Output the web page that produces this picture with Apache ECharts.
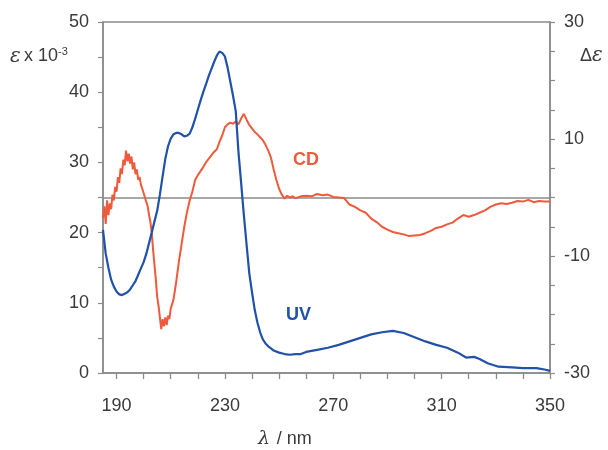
<!DOCTYPE html>
<html>
<head>
<meta charset="utf-8">
<script src="https://cdn.jsdelivr.net/npm/echarts@6/dist/echarts.min.js"></script>
<style>
  html, body { margin: 0; padding: 0; background: #fff; }
  #chart { width: 608px; height: 450px; }
</style>
</head>
<body>
<div id="chart"></div>
<script>
// UV absorption (left axis, ε x 10^-3)
const uvWavelength = [185, 186, 187, 188, 189, 190, 191, 192, 193, 194, 195, 196, 197, 198, 199, 200,
  201, 202, 203, 204, 205, 206, 207, 208, 209, 210, 211, 212, 213, 214, 215, 216, 217, 218, 219, 220,
  221, 222, 223, 224, 225, 226, 227, 228, 229, 230, 231, 232, 233, 234, 235, 236, 237, 238, 239, 240,
  241, 242, 243, 244, 245, 246, 247, 248, 250, 252, 254, 256, 258, 260, 264, 268, 272, 276, 280, 284,
  288, 292, 296, 300, 304, 308, 312, 316, 319, 322, 324, 327, 331, 336, 340, 345, 348, 350];
const uvValues = [20.4, 17.0, 15.0, 13.3, 12.3, 11.6, 11.2, 11.1, 11.3, 11.5, 11.9, 12.5, 13.1, 14.0, 14.9, 15.8,
  17.0, 18.5, 20.0, 21.6, 23.1, 25.4, 28.0, 30.5, 32.3, 33.4, 34.0, 34.2, 34.2, 34.0, 33.7, 33.8, 34.1, 35.0, 36.2, 37.5,
  38.8, 40.0, 41.1, 42.3, 43.3, 44.3, 45.2, 45.8, 45.6, 45.1, 43.5, 41.5, 39.5, 37.3, 31.5, 27.0, 22.5, 18.3, 14.2, 11.5,
  9.0, 7.2, 5.8, 4.8, 4.2, 3.8, 3.5, 3.2, 2.9, 2.7, 2.6, 2.7, 2.7, 3.0, 3.3, 3.6, 4.0, 4.5, 5.0, 5.5,
  5.8, 6.0, 5.7, 5.1, 4.5, 4.0, 3.6, 2.9, 2.2, 2.3, 2.0, 1.4, 0.9, 0.8, 0.7, 0.7, 0.5, 0.3];

// CD spectrum (right axis, Δε)
const cdWavelength = [185, 185.5, 186, 186.5, 187, 187.5, 188, 188.5, 189, 189.5, 190, 190.5, 191, 191.5, 192, 192.5,
  193, 193.5, 194, 194.5, 195, 195.5, 196, 196.5, 197, 197.5, 198, 198.5, 199, 199.5, 200, 200.5, 201, 201.5,
  202, 202.5, 203, 203.5, 204, 204.5, 205, 205.5, 206, 206.5, 207, 207.5, 208, 208.5, 209, 209.5, 210, 211,
  212, 213, 214, 215, 216, 217, 218, 219, 220, 221, 222, 223, 224, 225, 226, 227, 228, 229, 230, 231, 232,
  233, 234, 235, 236, 237, 238, 239, 240, 241, 242, 243, 244, 245, 246, 247, 248, 249, 250, 251, 252, 253,
  254, 255, 256, 258, 260, 262, 264, 266, 268, 270, 272, 274, 276, 278, 280, 282, 284, 286, 288, 290, 292,
  294, 296, 298, 300, 302, 304, 306, 308, 310, 312, 314, 316, 318, 320, 322, 324, 326, 328, 330, 332, 334,
  336, 338, 340, 342, 344, 346, 348, 350];
const cdValues = [-3.5, -1.5, -4.5, -0.5, -3.0, -1.0, -2.0, 0.5, -0.5, 1.8, 1.0, 3.5, 2.5, 5.0, 4.0, 6.5,
  5.5, 8.0, 6.2, 7.5, 5.8, 7.0, 4.8, 6.0, 4.0, 4.8, 3.0, 3.5, 2.2, 1.5, 1.2, 0.0, -0.8, -1.5,
  -3.0, -4.2, -6.0, -9.0, -11.5, -14.0, -17.0, -18.5, -20.5, -22.5, -20.8, -22.0, -20.5, -21.8, -20.2, -20.8, -19.0, -17.5,
  -14.5, -11.0, -8.0, -5.0, -2.5, -0.5, 1.0, 3.0, 3.8, 4.5, 5.2, 6.0, 6.6, 7.2, 7.8, 8.2, 9.5, 10.6, 12.0, 12.5, 12.8,
  12.6, 13.0, 12.5, 13.5, 14.3, 13.3, 12.4, 11.8, 11.2, 10.8, 10.3, 9.8, 9.0, 8.0, 6.8, 4.8, 3.0, 1.5, 0.5, -0.2, 0.3,
  0.0, 0.2, -0.1, 0.2, 0.3, 0.2, 0.6, 0.4, 0.5, 0.1, 0.0, -0.1, -1.2, -1.6, -2.2, -2.6, -3.6, -4.2, -5.0, -5.5, -5.9,
  -6.1, -6.3, -6.6, -6.5, -6.4, -6.1, -5.7, -5.2, -5.0, -4.6, -4.3, -3.6, -3.0, -3.3, -3.0, -2.6, -2.2, -1.6, -1.2, -1.0, -1.1,
  -0.9, -0.6, -0.7, -0.4, -0.8, -0.6, -0.7, -0.7];

const xTicks = [190, 200, 210, 220, 230, 240, 250, 260, 270, 280, 290, 300, 310, 320, 330, 340, 350];
const xLabels = [190, 230, 270, 310, 350];

const zip = (xs, ys) => xs.map((x, i) => [x, ys[i]]);

const axisGray = "#8a8a8a";
const labelFont = { color: "#3a3a3a", fontSize: 18, fontFamily: "Liberation Sans, Arial, sans-serif" };

const chart = echarts.init(document.getElementById("chart"), null, { renderer: "canvas" });
chart.setOption({
  animation: false,
  grid: {
    left: 103,
    right: 58,
    top: 22,
    bottom: 77,
    show: true,
    borderColor: axisGray,
    borderWidth: 1.5,
  },
  xAxis: {
    type: "value",
    min: 185,
    max: 350,
    axisLine: { show: true, lineStyle: { color: axisGray, width: 1.5 } },
    axisTick: { show: true, length: 6, customValues: xTicks, lineStyle: { color: axisGray, width: 1.3 } },
    axisLabel: { ...labelFont, margin: 24, customValues: xLabels },
    splitLine: { show: false },
  },
  yAxis: [
    {
      type: "value",
      min: 0,
      max: 50,
      interval: 5,
      axisLine: { show: true, lineStyle: { color: axisGray, width: 1.5 } },
      axisTick: { show: true, length: 5, lineStyle: { color: axisGray, width: 1.2 } },
      axisLabel: { ...labelFont, margin: 14, formatter: (v) => (v % 10 === 0 ? v : "") },
      splitLine: { show: false },
    },
    {
      type: "value",
      min: -30,
      max: 30,
      interval: 5,
      position: "right",
      axisLine: { show: true, lineStyle: { color: axisGray, width: 1.5 } },
      axisTick: { show: true, length: 5, lineStyle: { color: axisGray, width: 1.2 } },
      axisLabel: { ...labelFont, margin: 14, formatter: (v) => ((v + 30) % 20 === 0 ? v : "") },
      splitLine: { show: false },
    },
  ],
  series: [
    {
      name: "UV",
      type: "line",
      yAxisIndex: 0,
      data: zip(uvWavelength, uvValues),
      showSymbol: false,
      lineStyle: { color: "#1f52a8", width: 2.2 },
      z: 3,
    },
    {
      name: "CD",
      type: "line",
      yAxisIndex: 1,
      data: zip(cdWavelength, cdValues),
      showSymbol: false,
      lineStyle: { color: "#ef5a3c", width: 2 },
      z: 2,
      markLine: {
        silent: true,
        symbol: "none",
        label: { show: false },
        lineStyle: { color: axisGray, width: 1.5, type: "solid" },
        data: [{ yAxis: 0 }],
        z: 1,
      },
    },
  ],
  graphic: [
    {
      type: "text",
      left: 10,
      top: 46,
      style: {
        text: "{e|ε} {n|x 10}{s|-3}",
        rich: {
          e: { fontSize: 20, fontStyle: "italic", fontFamily: "DejaVu Serif, serif", fill: "#3a3a3a" },
          n: { fontSize: 18, fontFamily: "Liberation Sans, Arial, sans-serif", fill: "#3a3a3a" },
          s: { fontSize: 11, fontFamily: "Liberation Sans, Arial, sans-serif", fill: "#3a3a3a", verticalAlign: "top", padding: [0, 0, 10, 0] },
        },
      },
    },
    {
      type: "text",
      left: 580,
      top: 46,
      style: {
        text: "{d|Δ}{e|ε}",
        rich: {
          d: { fontSize: 18, fontFamily: "Liberation Sans, Arial, sans-serif", fill: "#3a3a3a" },
          e: { fontSize: 20, fontStyle: "italic", fontFamily: "DejaVu Serif, serif", fill: "#3a3a3a" },
        },
      },
    },
    {
      type: "text",
      left: 258,
      top: 430,
      style: {
        text: "{l|λ}  {n|/ nm}",
        rich: {
          l: { fontSize: 19, fontStyle: "italic", fontFamily: "DejaVu Serif, serif", fill: "#3a3a3a" },
          n: { fontSize: 18, fontFamily: "Liberation Sans, Arial, sans-serif", fill: "#3a3a3a" },
        },
      },
    },
    {
      type: "text",
      left: 293,
      top: 151,
      style: { text: "CD", fontSize: 18, fontWeight: "bold", fontFamily: "Liberation Sans, Arial, sans-serif", fill: "#ef5a3c" },
    },
    {
      type: "text",
      left: 286,
      top: 306,
      style: { text: "UV", fontSize: 18, fontWeight: "bold", fontFamily: "Liberation Sans, Arial, sans-serif", fill: "#1f52a8" },
    },
  ],
});
</script>
</body>
</html>
